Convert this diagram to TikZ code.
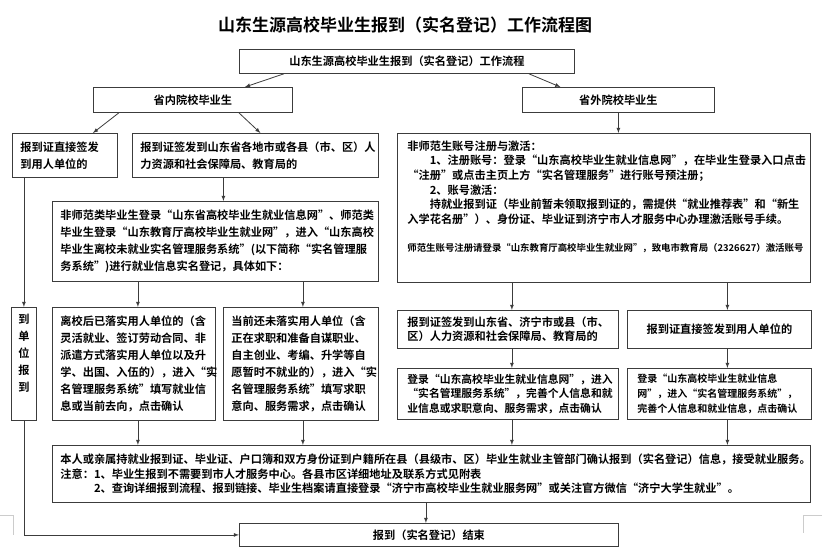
\documentclass[tikz,border=0pt]{standalone}
\usepackage{fontspec}
\setmainfont{Noto Sans CJK SC}[BoldFont=* Bold]
\usepackage{tikz}
\usetikzlibrary{arrows, positioning}
\definecolor{boxline}{RGB}{60, 60, 60}

\begin{document}
\begin{tikzpicture}[x=1pt, y=-1pt,
    box/.style={draw=boxline, line width=0.8pt, anchor=north west, align=left,
      inner xsep=8pt, inner ysep=1pt, font=\fontsize{11.2}{17}\selectfont\bfseries},
    tight/.style={font=\fontsize{11.2}{14.6}\selectfont\bfseries},
    flow/.style={draw=boxline, line width=0.8pt, -latex}]
    \useasboundingbox (0,0) rectangle (838,554);

    % Title
    \node[font=\fontsize{17}{20}\selectfont\bfseries] (title) at (405,25) {山东生源高校毕业生报到（实名登记）工作流程图};

    % Top levels
    \node[box, align=center, text width=319pt, minimum height=24pt] (start) at (239,49) {山东生源高校毕业生报到（实名登记）工作流程};
    \node[box, align=center, text width=183pt, minimum height=25pt] (inprov) at (93,87) {省内院校毕业生};
    \node[box, align=center, text width=176pt, minimum height=25pt] (outprov) at (522,87) {省外院校毕业生};

    % Graduates of schools in the province
    \node[box, text width=89pt, minimum height=44pt] (direct) at (12,133) {报到证直接签发\\到用人单位的};
    \node[box, text width=230pt, minimum height=44pt] (bureau) at (132,133) {报到证签发到山东省各地市或各县（市、区）人\\力资源和社会保障局、教育局的};
    \node[box, text width=310pt, minimum height=80pt] (login) at (52,201) {非师范类毕业生登录“山东省高校毕业生就业信息网”、师范类\\毕业生登录“山东教育厅高校毕业生就业网”，进入“山东高校\\毕业生离校未就业实名管理服务系统”(以下简称“实名管理服\\务系统”)进行就业信息实名登记，具体如下：};
    \node[box, align=center, inner xsep=2pt, text width=21pt, minimum height=113pt] (unit) at (11,307) {到\\单\\位\\报\\到\\[6pt]\mbox{}};
    \node[box, text width=147pt, minimum height=113pt] (placed) at (52,307) {离校后已落实用人单位的（含\\灵活就业、签订劳动合同、非\\派遣方式落实用人单位以及升\\学、出国、入伍的），进入“实\\名管理服务系统”填写就业信\\息或当前去向，点击确认};
    \node[box, text width=139pt, minimum height=113pt] (seeking) at (223,307) {当前还未落实用人单位（含\\正在求职和准备自谋职业、\\自主创业、考编、升学等自\\愿暂时不就业的），进入“实\\名管理服务系统”填写求职\\意向、服务需求，点击确认};

    % Graduates of schools outside the province
    \node[box, tight, inner xsep=10pt, text width=393pt, minimum height=149pt] (account) at (397,133) {非师范生账号注册与激活：\\\hspace*{2em}1、注册账号：登录“山东高校毕业生就业信息网”，在毕业生登录入口点击\\“注册”或点击主页上方“实名管理服务”进行账号预注册；\\\hspace*{2em}2、账号激活：\\\hspace*{2em}持就业报到证（毕业前暂未领取报到证的，需提供“就业推荐表”和“新生\\入学花名册”）、身份证、毕业证到济宁市人才服务中心办理激活账号手续。\\[13.4pt]{\fontsize{9.4}{14.6}\selectfont 师范生账号注册请登录“山东教育厅高校毕业生就业网”，致电市教育局（2326627）激活账号}\\[9pt]\mbox{}};
    \node[box, font=\fontsize{11.2}{13.5}\selectfont\bfseries, inner xsep=10pt, text width=201pt, minimum height=38pt] (bureau2) at (397,310) {报到证签发到山东省、济宁市或县（市、\\区）人力资源和社会保障局、教育局的};
    \node[box, align=center, inner xsep=10pt, text width=164pt, minimum height=38pt] (direct2) at (627,310) {报到证直接签发到用人单位的};
    \node[box, font=\fontsize{10.8}{14.6}\selectfont\bfseries, inner xsep=10pt, text width=201pt, minimum height=51pt] (login2) at (397,368) {登录“山东高校毕业生就业信息网”，进入\\“实名管理服务系统”，完善个人信息和就\\业信息或求职意向、服务需求，点击确认};
    \node[box, font=\fontsize{10}{14.6}\selectfont\bfseries, inner xsep=10pt, text width=164pt, minimum height=51pt] (login3) at (627,368) {登录“山东高校毕业生就业信息\\网”，进入“实名管理服务系统”，\\完善个人信息和就业信息，点击确认};

    % Confirmation and end
    \node[box, tight, text width=742pt, minimum height=57pt] (confirm) at (52,445) {本人或亲属持就业报到证、毕业证、户口簿和双方身份证到户籍所在县（县级市、区）毕业生就业主管部门确认报到（实名登记）信息，接受就业服务。\\注意：1、毕业生报到不需要到市人才服务中心。各县市区详细地址及联系方式见附表\\\hspace*{3em}2、查询详细报到流程、报到链接、毕业生档案请直接登录“济宁市高校毕业生就业服务网”或关注官方微信“济宁大学生就业”。};
    \node[box, align=center, text width=363pt, minimum height=23pt] (finish) at (239,523) {报到（实名登记）结束};

    % Connectors
    \draw[flow] ([xshift=-123pt]start.south) -- ([xshift=52pt]inprov.north);
    \draw[flow] ([xshift=122pt]start.south) -- ([xshift=-58pt]outprov.north);
    \draw[flow] ([xshift=-74pt]inprov.south) -- ([xshift=28pt]direct.north);
    \draw[flow] ([xshift=46pt]inprov.south) -- ([xshift=5pt]bureau.north);
    \draw[flow] (outprov.south) -- (outprov.south |- account.north);
    \draw[flow] ([xshift=-32pt]bureau.south) -- ([xshift=-32pt]bureau.south |- login.north);
    \draw[flow] (unit.north |- direct.south) -- (unit.north);
    \draw[flow] ([xshift=4pt]placed.north |- login.south) -- ([xshift=4pt]placed.north);
    \draw[flow] ([xshift=2pt]seeking.north |- login.south) -- ([xshift=2pt]seeking.north);
    \draw[flow] ([xshift=4pt]bureau2.north |- account.south) -- ([xshift=4pt]bureau2.north);
    \draw[flow] ([xshift=8pt]direct2.north |- account.south) -- ([xshift=8pt]direct2.north);
    \draw[flow] ([xshift=4pt]bureau2.south) -- ([xshift=4pt]login2.north);
    \draw[flow] ([xshift=8pt]direct2.south) -- ([xshift=8pt]login3.north);
    \foreach \n/\dx in {placed/4pt, seeking/2pt, login2/4pt, login3/8pt} {
        \draw[flow] ([xshift=\dx]\n.south) -- ([xshift=\dx]\n.south |- confirm.north);
    }
    \draw[flow] ([xshift=-3pt]finish.north |- confirm.south) -- ([xshift=-3pt]finish.north);
    \draw[flow] (unit.south) |- (finish.west);

    % Page margin marks
    \draw[black!20, line width=0.6pt] (0,515) -- (13,515) -- (13,535);
    \draw[black!20, line width=0.6pt] (822,515) -- (803,515) -- (803,533);
\end{tikzpicture}
\end{document}
